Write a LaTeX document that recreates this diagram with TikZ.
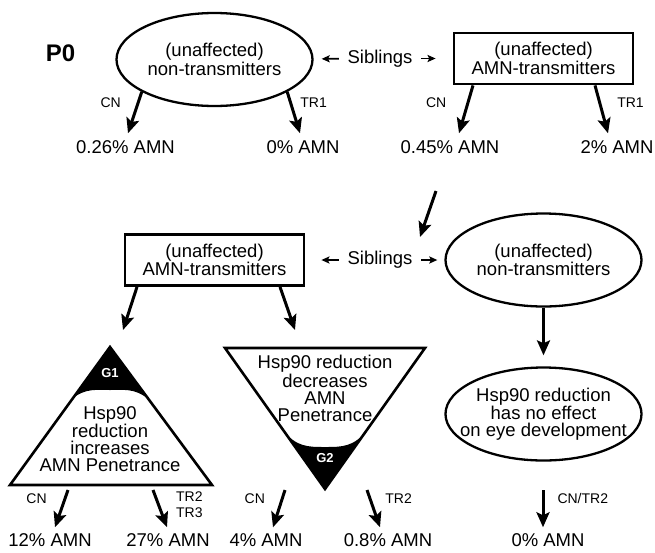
\documentclass[tikz,border=0pt]{standalone}
\usepackage{fontspec}
\setmainfont{Liberation Sans}
\usepackage{tikz}
\usetikzlibrary{arrows.meta,shapes.geometric,positioning}
\tikzset{
  big/.style={font=\fontsize{18.5}{17}\selectfont,align=center,inner sep=0pt},
  lab/.style={font=\fontsize{14}{16}\selectfont,align=left,inner sep=0pt},
  gname/.style={text=white,font=\fontsize{13}{13}\selectfont\bfseries,inner sep=0pt},
  oval/.style={ellipse,draw,line width=2.3pt,minimum width=196pt,minimum height=93pt,
    big,inner xsep=-14pt,inner ysep=0pt},
  box/.style={rectangle,draw,line width=2.8pt,minimum width=179pt,minimum height=51pt,big},
  tri/.style={line width=2.6pt,line join=miter},
  arr/.style={line width=3pt,-{Stealth[length=15pt,width=13pt,inset=3pt]}},
  sarr/.style={line width=1.8pt,-{Stealth[length=8pt,width=7pt,inset=1.5pt]}}
}
\begin{document}
\begin{tikzpicture}[x=1pt,y=-1pt]
  \useasboundingbox (0,0) rectangle (655,552);

  % P0 generation
  \node[big,font=\fontsize{24}{24}\selectfont\bfseries] (p0) at (60.5,53.5) {P0};
  \node[oval] (nt1) at (214.5,59.5) {(unaffected)\\non-transmitters};
  \node[box] (at1) at (543.5,58.5) {(unaffected)\\AMN-transmitters};
  \node[big,inner xsep=8.5pt] (sib1) at (380,58.5) {Siblings};
  \draw[sarr,shorten >=8pt] (sib1) -- (nt1);
  \draw[sarr,shorten >=17pt] (sib1) -- (at1);

  \node[big] (r1) at (125.5,147) {0.26\% AMN};
  \node[big] (r2) at (303,147) {0\% AMN};
  \node[big] (r3) at (450,147) {0.45\% AMN};
  \node[big] (r4) at (617,147) {2\% AMN};

  \draw[arr] (nt1.204) -- node[lab,pos=0.25,left=16pt] {CN} ([xshift=2.5pt,yshift=7pt]r1.north);
  \draw[arr] (nt1.336) -- node[lab,pos=0.25,right=8.5pt] {TR1} ([xshift=-3pt,yshift=7pt]r2.north);
  \draw[arr] ([xshift=-70.5pt]at1.south) -- node[lab,pos=0.37,left=20pt] {CN} ([xshift=9pt,yshift=7pt]r3.north);
  \draw[arr] ([xshift=51.5pt]at1.south) -- node[lab,pos=0.37,right=16pt] {TR1} ([xshift=-9pt,yshift=7pt]r4.north);

  \coordinate (d0) at (436,191);
  \coordinate (d1) at (420,237);
  \draw[arr] (d0) -- (d1);

  % next generation
  \node[box] (at2) at (214.5,260) {(unaffected)\\AMN-transmitters};
  \node[oval] (nt2) at (543.5,260) {(unaffected)\\non-transmitters};
  \node[big,inner xsep=8.5pt] (sib2) at (380,260) {Siblings};
  \draw[sarr,shorten >=16pt] (sib2) -- (at2);
  \draw[sarr,shorten >=7pt] (sib2) -- (nt2);

  \coordinate (g1in) at (123,330);
  \coordinate (g2in) at (295,330);
  \draw[arr] ([xshift=-77.5pt]at2.south) -- (g1in);
  \draw[arr] ([xshift=65.5pt]at2.south) -- (g2in);

  \node[oval] (nt3) at (543.5,414) {Hsp90 reduction\\has no effect\\on eye development};
  \draw[arr,shorten >=11pt] (nt2) -- (nt3);

  % G1 triangle
  \coordinate (g1a) at (110,347);
  \coordinate (g1l) at (10,485);
  \coordinate (g1r) at (212,485);
  \fill (g1a) -- (73,398) .. controls (86,388) and (97,390) .. (110,390)
    .. controls (123,390) and (134,388) .. (147,398) -- cycle;
  \draw[tri] (g1a) -- (g1l) -- (g1r) -- cycle;
  \node[gname] (g1) at (110,373) {G1};
  \node[big] (g1t) at (110,439) {Hsp90\\reduction\\increases\\AMN Penetrance};

  % G2 triangle
  \coordinate (g2l) at (225,348);
  \coordinate (g2r) at (425,348);
  \coordinate (g2a) at (325,489);
  \fill (g2a) -- (283,430) .. controls (296,447) and (308,447) .. (325,447)
    .. controls (342,447) and (354,447) .. (367,430) -- cycle;
  \draw[tri] (g2l) -- (g2r) -- (g2a) -- cycle;
  \node[gname] (g2) at (325,458) {G2};
  \node[big] (g2t) at (325,388.5) {Hsp90 reduction\\decreases\\AMN\\Penetrance};

  % outcomes
  \node[big] (r5) at (50,540) {12\% AMN};
  \node[big] (r6) at (168,540) {27\% AMN};
  \node[big] (r7) at (266,540) {4\% AMN};
  \node[big] (r8) at (388,540) {0.8\% AMN};
  \node[big] (r9) at (548,540) {0\% AMN};

  \coordinate (s5) at (68,490);
  \coordinate (s6) at (153,490);
  \coordinate (s7) at (285,490);
  \coordinate (s8) at (367,490);
  \coordinate (s9) at (543,490);
  \draw[arr] (s5) -- node[lab,pos=0.22,left=17pt] {CN} ([xshift=5pt,yshift=6pt]r5.north);
  \draw[arr] (s6) -- node[lab,pos=0.4,right=16pt] {TR2\\TR3} ([xshift=-1pt,yshift=6pt]r6.north);
  \draw[arr] (s7) -- node[lab,pos=0.22,left=16pt] {CN} ([xshift=7pt,yshift=6pt]r7.north);
  \draw[arr] (s8) -- node[lab,pos=0.22,right=14pt] {TR2} ([xshift=-8pt,yshift=6pt]r8.north);
  \draw[arr] (s9) -- node[lab,pos=0.22,right=13pt] {CN/TR2} ([xshift=-5pt,yshift=6pt]r9.north);
\end{tikzpicture}
\end{document}
